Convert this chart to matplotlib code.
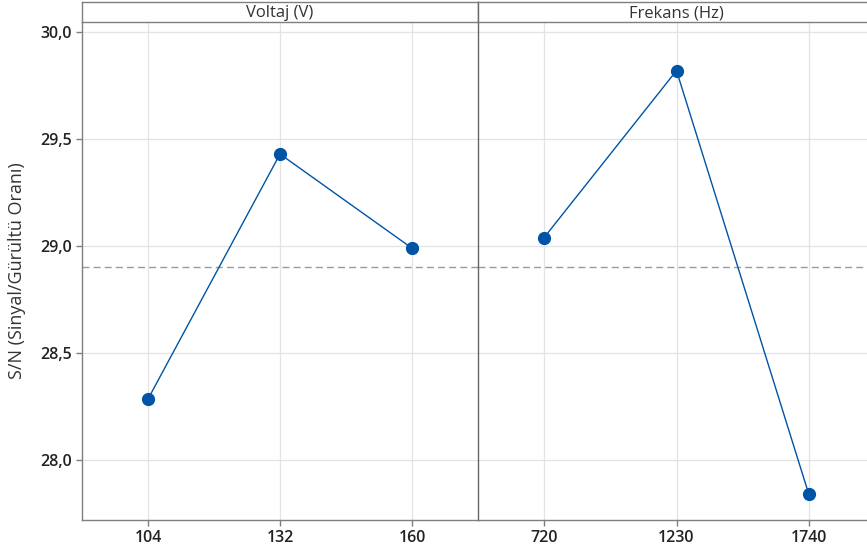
import matplotlib.pyplot as plt

plt.rcParams['font.family'] = ['Open Sans', 'DejaVu Sans']

factors = ["Voltaj (V)", "Frekans (Hz)"]
voltaj_levels = ["104", "132", "160"]
voltaj_sn = [28.285, 29.43, 28.99]
frekans_levels = ["720", "1230", "1740"]
frekans_sn = [29.04, 29.82, 27.84]
mean_sn = 28.90
y_ticks = [28.0, 28.5, 29.0, 29.5, 30.0]
y_ticklabels = ["28,0", "28,5", "29,0", "29,5", "30,0"]

W, H = 867, 555
fig = plt.figure(figsize=(W / 100, H / 100), dpi=100)

blue = "#0054A6"
edge = "#7f7f7f"
grid = "#e3e3e3"

panels = [(82, 396, voltaj_levels, voltaj_sn, factors[0]),
          (478, 397, frekans_levels, frekans_sn, factors[1])]

for i, (x0, w, levels, vals, title) in enumerate(panels):
    ax = fig.add_axes([x0 / W, 35 / H, w / W, 498 / H])
    pos = list(range(len(levels)))
    ax.plot(pos, vals, color=blue, lw=1, marker="o", ms=8.5, zorder=3)
    ax.axhline(mean_sn, color="#9a9a9a", lw=1, ls=(0, (5, 3)), zorder=2)
    ax.set_xlim(-0.5, 2.5)
    ax.set_ylim(27.72, 30.047)
    ax.set_xticks(pos)
    ax.set_xticklabels(levels, fontsize=11.5, fontweight="semibold")
    ax.set_yticks(y_ticks)
    ax.grid(True, color=grid, lw=0.9, zorder=0)
    ax.tick_params(colors=edge, labelcolor="#222222", length=4, width=1)
    for s in ax.spines.values():
        s.set_color(edge)
        s.set_linewidth(1)
    ax.spines["top"].set_visible(False)
    ax.spines["right"].set_visible(False)
    if i == 0:
        ax.set_yticklabels(y_ticklabels, fontsize=11.5, fontweight="semibold")
        ax.set_ylabel("S/N (Sinyal/Gürültü Oranı)", fontsize=13,
                      color="#333333", labelpad=10)
    else:
        ax.tick_params(axis="y", left=False, labelleft=False)
        ax.spines["left"].set_color("#666666")

    strip = fig.add_axes([x0 / W, (H - 22) / H, w / W, 20 / H])
    strip.set_xticks([])
    strip.set_yticks([])
    for s in strip.spines.values():
        s.set_color(edge)
        s.set_linewidth(1)
    strip.spines["left"].set_color("#666666" if i else edge)
    strip.text(0.5, 0.45, title, ha="center", va="center", fontsize=12,
               color="#333333", transform=strip.transAxes)

fig.savefig("out.png", dpi=100)
